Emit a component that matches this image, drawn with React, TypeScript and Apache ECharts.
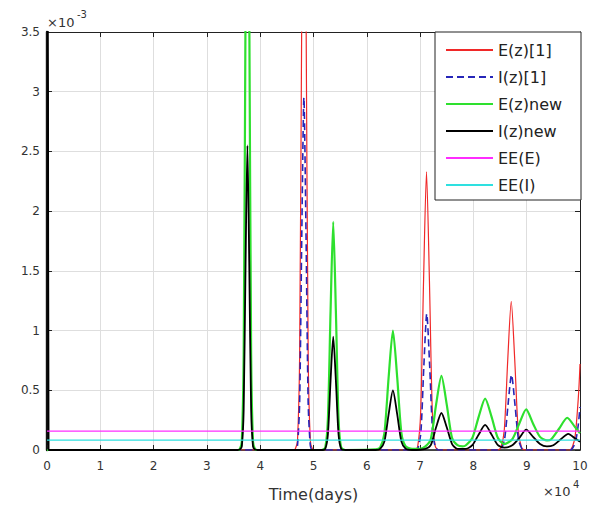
import React, { useEffect, useRef } from "react";
import * as echarts from "echarts";

// x in units of 1e4 days, y in units of 1e-3
const legendNames = ["E(z)[1]", "I(z)[1]", "E(z)new", "I(z)new", "EE(E)", "EE(I)"];

const eZ1: [number, number][] = [
  [0, 0], [4.62, 0], [4.66, 0.01], [4.70, 0.08], [4.74, 0.8], [4.78, 3.7], [4.82, 6], [4.86, 3.7], [4.90, 0.8], [4.94, 0.08], [4.98, 0.01], [5.05, 0],
  [6.90, 0], [6.955, 0.03], [7.01, 0.31], [7.065, 1.42], [7.12, 2.33], [7.175, 1.42], [7.23, 0.31], [7.285, 0.03], [7.35, 0],
  [8.45, 0], [8.515, 0.02], [8.58, 0.17], [8.645, 0.76], [8.71, 1.245], [8.775, 0.76], [8.84, 0.17], [8.905, 0.02], [8.97, 0],
  [9.80, 0], [9.86, 0.03], [9.91, 0.12], [9.95, 0.32], [9.98, 0.52], [10, 0.72],
];

const iZ1: [number, number][] = [
  [0, 0], [4.66, 0], [4.70, 0.04], [4.74, 0.4], [4.78, 1.8], [4.82, 2.95], [4.86, 1.8], [4.90, 0.4], [4.94, 0.04], [4.98, 0],
  [6.90, 0], [6.96, 0.015], [7.015, 0.15], [7.07, 0.7], [7.125, 1.14], [7.18, 0.7], [7.235, 0.15], [7.29, 0.02], [7.35, 0],
  [8.45, 0], [8.52, 0.01], [8.585, 0.09], [8.65, 0.38], [8.715, 0.63], [8.78, 0.38], [8.845, 0.09], [8.91, 0.01], [8.97, 0],
  [9.82, 0], [9.88, 0.03], [9.93, 0.1], [9.97, 0.22], [10, 0.36],
];

const eZnew: [number, number][] = [
  [0, 0], [3.58, 0], [3.62, 0.01], [3.655, 0.07], [3.69, 0.8], [3.725, 3.7], [3.76, 6], [3.795, 3.7], [3.83, 0.8], [3.865, 0.07], [3.90, 0.01], [3.95, 0],
  [5.15, 0], [5.22, 0.02], [5.27, 0.26], [5.32, 1.16], [5.37, 1.91], [5.42, 1.16], [5.47, 0.26], [5.52, 0.02], [5.60, 0],
  [6.17, 0.005], [6.25, 0.02], [6.33, 0.14], [6.41, 0.61], [6.49, 1.0], [6.57, 0.61], [6.65, 0.14], [6.73, 0.03], [6.85, 0.01],
  [7.0, 0.01], [7.10, 0.03], [7.20, 0.09], [7.30, 0.38], [7.40, 0.62], [7.50, 0.38], [7.60, 0.1], [7.70, 0.04], [7.80, 0.03],
  [7.86, 0.04], [7.98, 0.1], [8.10, 0.28], [8.22, 0.43], [8.34, 0.28], [8.46, 0.1], [8.58, 0.05],
  [8.73, 0.09], [8.86, 0.22], [8.99, 0.34], [9.12, 0.22], [9.25, 0.11], [9.38, 0.08],
  [9.46, 0.09], [9.61, 0.18], [9.76, 0.27], [9.91, 0.19], [10, 0.14],
];

const iZnew: [number, number][] = [
  [0, 5], [0.02, 3], [0.03, 0], [3.58, 0], [3.62, 0.005], [3.655, 0.03], [3.69, 0.34], [3.725, 1.55], [3.76, 2.55], [3.795, 1.55], [3.83, 0.34], [3.865, 0.03], [3.90, 0.005], [3.95, 0],
  [5.15, 0], [5.22, 0.01], [5.27, 0.13], [5.32, 0.58], [5.37, 0.95], [5.42, 0.58], [5.47, 0.13], [5.52, 0.01], [5.60, 0],
  [6.17, 0], [6.25, 0.01], [6.33, 0.07], [6.41, 0.3], [6.49, 0.5], [6.57, 0.3], [6.65, 0.07], [6.73, 0.01], [6.85, 0],
  [7.10, 0.01], [7.20, 0.04], [7.30, 0.19], [7.40, 0.31], [7.50, 0.19], [7.60, 0.05], [7.70, 0.01],
  [7.86, 0.01], [7.98, 0.04], [8.10, 0.13], [8.22, 0.21], [8.34, 0.13], [8.46, 0.04], [8.58, 0.02],
  [8.73, 0.04], [8.86, 0.1], [8.99, 0.17], [9.12, 0.11], [9.25, 0.05], [9.38, 0.03],
  [9.50, 0.04], [9.64, 0.09], [9.78, 0.135], [9.90, 0.1], [10, 0.07],
];

const eeE: [number, number][] = [[0, 0.158], [10, 0.158]];
const eeI: [number, number][] = [[0, 0.083], [10, 0.083]];

const FONT = "DejaVu Sans";

export default function App() {
  const ref = useRef<HTMLDivElement>(null);
  useEffect(() => {
    if (!ref.current) return;
    const chart = echarts.init(ref.current, undefined, { renderer: "svg" });
    const gridLine = { show: true, lineStyle: { color: "#dedede", width: 1 } };
    const axisLine = { show: true, onZero: false, lineStyle: { color: "#222", width: 1 } };
    const tick = { show: true, inside: true, length: 5, lineStyle: { color: "#222" } };
    const mk = (name: string, data: [number, number][], color: string, width: number, type: any = "solid") => ({
      name,
      type: "line",
      data,
      showSymbol: false,
      symbol: "none",
      smooth: 0.25,
      clip: true,
      lineStyle: { color, width, type },
      itemStyle: { color },
    });
    chart.setOption({
      animation: false,
      backgroundColor: "#ffffff",
      textStyle: { fontFamily: FONT },
      grid: { left: 47, right: 21, top: 32, bottom: 55, containLabel: false },
      xAxis: [
        {
          type: "value", min: 0, max: 10, interval: 1,
          axisLine: { show: true, onZero: false, lineStyle: { color: "#111", width: 1.6 } },
          axisTick: tick, splitLine: gridLine,
          axisLabel: { color: "#333", fontSize: 12, fontFamily: FONT, margin: 10 },
          name: "Time(days)", nameLocation: "middle", nameGap: 36,
          nameTextStyle: { color: "#333", fontSize: 16, fontFamily: FONT },
        },
        {
          type: "value", min: 0, max: 10, interval: 1, position: "top",
          axisLine, axisTick: tick, splitLine: { show: false }, axisLabel: { show: false },
        },
      ],
      yAxis: [
        {
          type: "value", min: 0, max: 3.5, interval: 0.5,
          axisLine: { show: true, onZero: false, lineStyle: { color: "#111", width: 2.4 } },
          axisTick: tick, splitLine: gridLine,
          axisLabel: { color: "#333", fontSize: 12, fontFamily: FONT, margin: 7 },
        },
        {
          type: "value", min: 0, max: 3.5, interval: 0.5, position: "right",
          axisLine, axisTick: tick, splitLine: { show: false }, axisLabel: { show: false },
        },
      ],
      legend: {
        orient: "vertical",
        left: 435,
        top: 32,
        z: 20,
        data: legendNames,
        itemWidth: 47,
        itemHeight: 14,
        itemGap: 9,
        padding: [9, 4, 6, 10],
        backgroundColor: "#ffffff",
        borderColor: "#222",
        borderWidth: 1,
        borderRadius: 0,
        itemStyle: { opacity: 0 },
        textStyle: { color: "#222", fontSize: 16, fontFamily: FONT, lineHeight: 18, width: 79 },
      },
      graphic: [
        { type: "text", x: 47, y: 16, style: { text: "×10", fontSize: 13, fontFamily: FONT, fill: "#333", align: "left", verticalAlign: "top" } },
        { type: "text", x: 77, y: 9, style: { text: "-3", fontSize: 10, fontFamily: FONT, fill: "#333", align: "left", verticalAlign: "top" } },
        { type: "text", x: 543, y: 485, style: { text: "×10", fontSize: 13, fontFamily: FONT, fill: "#333", align: "left", verticalAlign: "top" } },
        { type: "text", x: 573, y: 479, style: { text: "4", fontSize: 10, fontFamily: FONT, fill: "#333", align: "left", verticalAlign: "top" } },
      ],
      series: [
        mk(legendNames[0], eZ1, "#f02828", 1.2),
        mk(legendNames[1], iZ1, "#2626b8", 1.6, [7, 4]),
        mk(legendNames[2], eZnew, "#2ee02e", 2.2),
        mk(legendNames[3], iZnew, "#000000", 1.8),
        mk(legendNames[4], eeE, "#ff2cff", 1.3),
        mk(legendNames[5], eeI, "#2ee0e0", 1.3),
      ],
    });
    return () => chart.dispose();
  }, []);
  return <div ref={ref} style={{ width: 601, height: 507, position: "absolute", left: 0, top: 0 }} />;
}
